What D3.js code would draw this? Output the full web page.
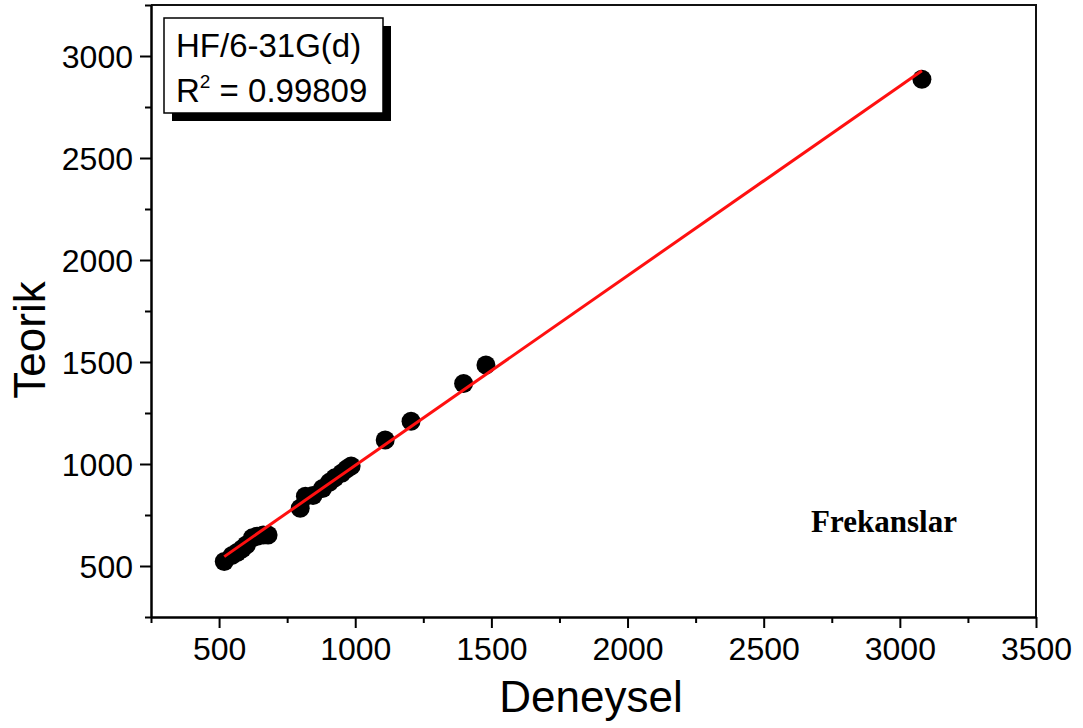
<!DOCTYPE html>
<html>
<head>
<meta charset="utf-8">
<script src="https://cdn.jsdelivr.net/npm/d3@7"></script>
<style>
  body { margin: 0; background: #fff; }
  svg { display: block; font-family: 'Liberation Sans', Arial, sans-serif; }
  .axis path, .axis line { stroke: #000; }
  .axis text { fill: #000; }
</style>
</head>
<body>
<div id="chart"></div>
<script>
// values
let deneysel = [519, 548, 566, 585, 600, 622, 640, 662, 680, 798, 817, 845, 880, 905, 925, 950, 968, 985, 1110, 1205, 1398, 1480, 3081]
let teorik   = [522, 552, 566, 585, 603, 638, 646, 652, 652, 783, 842, 846, 880, 910, 932, 955, 975, 990, 1118, 1210, 1395, 1485, 2886]
let fitX = [519, 3081]
let fitY = [546, 2928]
let xTicks = [500, 1000, 1500, 2000, 2500, 3000, 3500]
let xMinor = [250, 750, 1250, 1750, 2250, 2750, 3250]
let yTicks = [500, 1000, 1500, 2000, 2500, 3000]
let yMinor = [250, 750, 1250, 1750, 2250, 2750, 3250]
let legendLines = ['HF/6-31G(d)', 'R', '2', ' = 0.99809']
let noteText = 'Frekanslar'

let size = {width: 1083, height: 728}
let margin = {top: 5, right: 47, bottom: 111, left: 151}
let chartWidth = size.width - margin.left - margin.right
let chartHeight = size.height - margin.top - margin.bottom

let svg = d3.select('#chart').append('svg')
  .attr('width', size.width)
  .attr('height', size.height)

svg.append('rect').attr('width', size.width).attr('height', size.height).attr('fill', '#fff')

let xScale = d3.scaleLinear().domain([250, 3500]).range([0, chartWidth])
let yScale = d3.scaleLinear().domain([250, 3250]).range([chartHeight, 0])

let chartArea = svg.append('g')
  .attr('transform', 'translate(' + margin.left + ',' + margin.top + ')')

// frame: top and right
chartArea.append('path')
  .attr('d', 'M0,0H' + chartWidth + 'V' + chartHeight)
  .attr('fill', 'none')
  .attr('stroke', '#111')
  .attr('stroke-width', 2)

// minor ticks
chartArea.append('g')
  .attr('class', 'axis')
  .attr('transform', 'translate(0,' + chartHeight + ')')
  .call(d3.axisBottom(xScale).tickValues(xMinor).tickFormat('').tickSize(6).tickSizeOuter(0))
  .call(g => g.select('.domain').remove())
  .selectAll('line').attr('stroke-width', 2)

chartArea.append('g')
  .attr('class', 'axis')
  .call(d3.axisLeft(yScale).tickValues(yMinor).tickFormat('').tickSize(6).tickSizeOuter(0))
  .call(g => g.select('.domain').remove())
  .selectAll('line').attr('stroke-width', 2)

// X axis
let xAxis = chartArea.append('g')
  .attr('class', 'axis')
  .attr('transform', 'translate(0,' + chartHeight + ')')
  .call(d3.axisBottom(xScale).tickValues(xTicks).tickFormat(d3.format('d')).tickSize(11).tickSizeOuter(0))
xAxis.select('.domain').attr('stroke-width', 2.5)
xAxis.selectAll('line').attr('stroke-width', 2)
xAxis.selectAll('text')
  .attr('y', 43).attr('dy', 0)
  .style('font-size', '32px')
  .style('font-family', "'Liberation Sans', Arial, sans-serif")

// Y axis
let yAxis = chartArea.append('g')
  .attr('class', 'axis')
  .call(d3.axisLeft(yScale).tickValues(yTicks).tickFormat(d3.format('d')).tickSize(11).tickSizeOuter(0))
yAxis.select('.domain').attr('stroke-width', 2.5)
yAxis.selectAll('line').attr('stroke-width', 2)
yAxis.selectAll('text')
  .attr('x', -18).attr('dy', '0.36em')
  .style('font-size', '32px')
  .style('font-family', "'Liberation Sans', Arial, sans-serif")

// points
let points = deneysel.map(function(d, i){ return {x: d, y: teorik[i]} })
chartArea.selectAll('circle.dot')
  .data(points)
  .enter().append('circle')
  .attr('class', 'dot')
  .attr('cx', function(d){ return xScale(d.x) })
  .attr('cy', function(d){ return yScale(d.y) })
  .attr('r', 9.5)
  .attr('fill', '#000')

// fit line
let fit = fitX.map(function(d, i){ return [d, fitY[i]] })
chartArea.append('path')
  .datum(fit)
  .attr('d', d3.line().x(function(d){ return xScale(d[0]) }).y(function(d){ return yScale(d[1]) }))
  .attr('fill', 'none')
  .attr('stroke', '#ff1010')
  .attr('stroke-width', 3)

// legend box
let legend = svg.append('g').attr('transform', 'translate(164,18)')
legend.append('rect').attr('x', 8).attr('y', 8).attr('width', 219).attr('height', 95).attr('fill', '#000')
legend.append('rect').attr('width', 219).attr('height', 95).attr('fill', '#fff').attr('stroke', '#000').attr('stroke-width', 1.5)
legend.append('text')
  .attr('x', 12).attr('y', 39)
  .style('font-size', '33px')
  .text(legendLines[0])
let r2 = legend.append('text')
  .attr('x', 12).attr('y', 84)
  .style('font-size', '33px')
r2.append('tspan').text(legendLines[1])
r2.append('tspan').attr('dy', -14).style('font-size', '19px').text(legendLines[2])
r2.append('tspan').attr('dy', 14).text(legendLines[3])

// note
svg.append('text')
  .attr('x', 884).attr('y', 532)
  .attr('text-anchor', 'middle')
  .style('font-family', "'Liberation Serif', 'Times New Roman', serif")
  .style('font-weight', 'bold')
  .style('font-size', '31px')
  .text(noteText)

// axis titles
svg.append('text')
  .attr('x', 591).attr('y', 712)
  .attr('text-anchor', 'middle')
  .style('font-size', '44px')
  .text('Deneysel')

svg.append('text')
  .attr('transform', 'translate(45,340) rotate(-90)')
  .attr('text-anchor', 'middle')
  .style('font-size', '44px')
  .text('Teorik')
</script>
</body>
</html>
